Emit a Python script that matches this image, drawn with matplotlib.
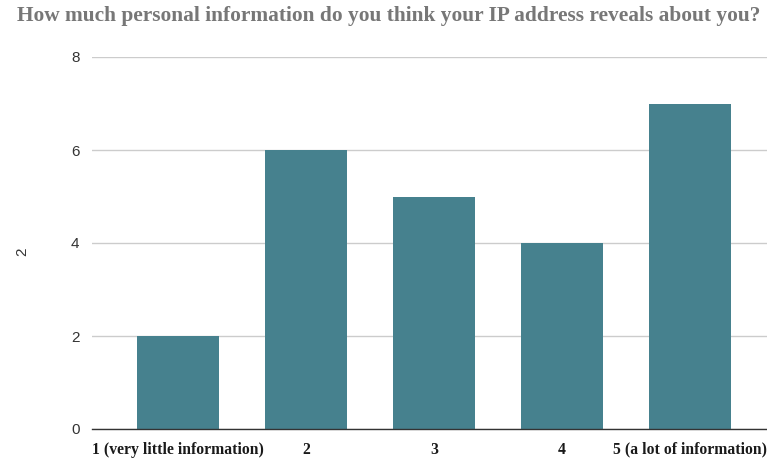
import matplotlib
matplotlib.use('Agg')
import matplotlib.pyplot as plt

categories = ['1 (very little information)', '2', '3', '4', '5 (a lot of information)']
values = [2, 6, 5, 4, 7]
yticks = [0, 2, 4, 6, 8]

fig = plt.figure(figsize=(7.67, 4.58), dpi=100)
ax = fig.add_axes([92/767, 1-429/458, (767-92)/767, (429-57)/458])

x = range(len(categories))
ax.bar(x, values, width=0.64, color='#46818e', zorder=2)

ax.set_ylim(0, 8)
ax.set_xlim(-0.672, 4.6)
ax.set_yticks(yticks)
ax.grid(axis='y', color='#cccccc', linewidth=1, zorder=0)
ax.set_xticks(list(x))
ax.set_xticklabels(categories, fontfamily='Liberation Serif', fontweight='bold',
                   fontsize=11.3, color='#1a1a1a')
for lab in ax.get_yticklabels():
    lab.set_fontfamily('Liberation Sans')
    lab.set_fontsize(11)
    lab.set_color('#333333')
ax.tick_params(axis='both', length=0)
ax.tick_params(axis='y', pad=9)
ax.tick_params(axis='x', pad=9)
for s in ['top', 'right', 'left']:
    ax.spines[s].set_visible(False)
ax.spines['bottom'].set_color('#333333')
ax.spines['bottom'].set_linewidth(1)
ax.spines['bottom'].set_zorder(3)

fig.text(22/767, 1-252/458, '2', rotation=90, ha='center', va='center',
         fontfamily='Liberation Sans', fontsize=11, color='#333333')
fig.text(0.507, 1-16/458, 'How much personal information do you think your IP address reveals about you?',
         ha='center', va='center', fontfamily='Liberation Serif', fontweight='bold',
         fontsize=15.4, color='#777777')

fig.savefig('out.png', dpi=100)
